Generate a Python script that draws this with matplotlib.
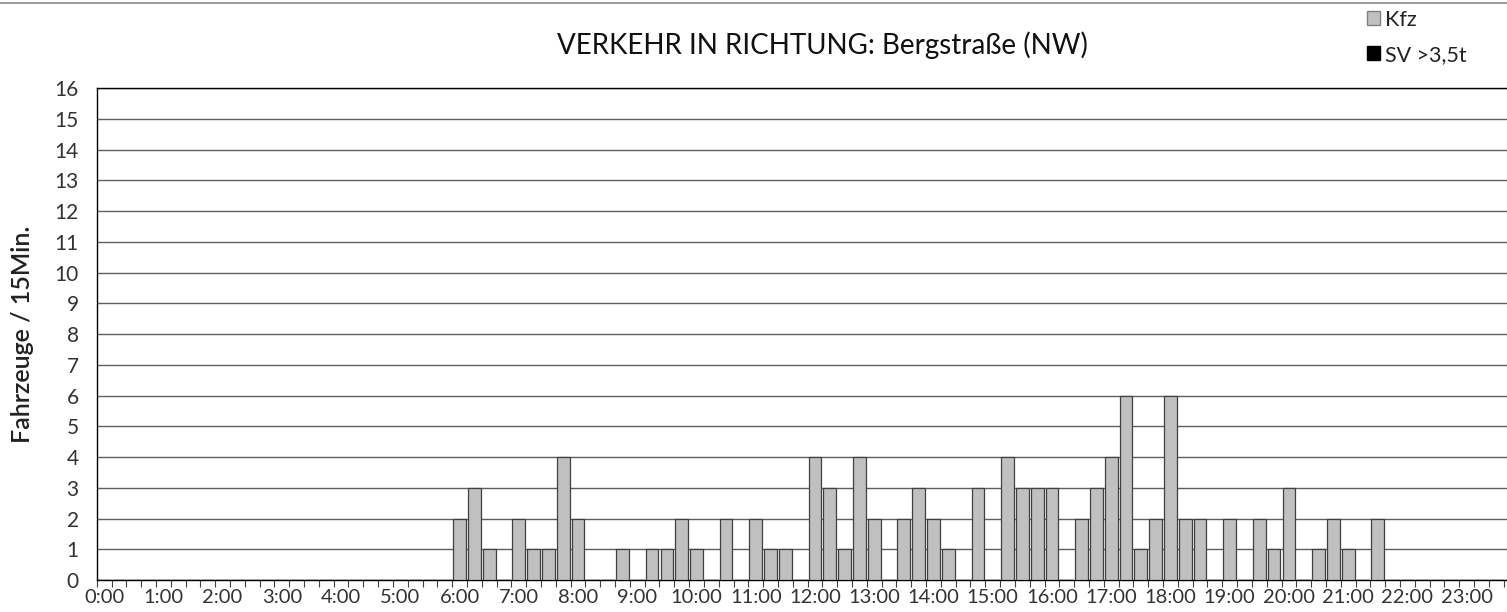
import numpy as np
import matplotlib
matplotlib.use("Agg")
import matplotlib.pyplot as plt
from matplotlib.lines import Line2D
from matplotlib.patches import Patch

# ── Data: vehicles per 15-minute slot, 0:00 .. 23:45 ──────────────────────────
kfz = [
    0, 0, 0, 0,   0, 0, 0, 0,   0, 0, 0, 0,   0, 0, 0, 0,   # 0:00 - 3:45
    0, 0, 0, 0,   0, 0, 0, 0,                               # 4:00 - 5:45
    2, 3, 1, 0,   2, 1, 1, 4,   2, 0, 0, 1,   0, 1, 1, 2,   # 6:00 - 9:45
    1, 0, 2, 0,   2, 1, 1, 0,   4, 3, 1, 4,   2, 0, 2, 3,   # 10:00 - 13:45
    2, 1, 0, 3,   0, 4, 3, 3,   3, 0, 2, 3,   4, 6, 1, 2,   # 14:00 - 17:45
    6, 2, 2, 0,   2, 0, 2, 1,   3, 0, 1, 2,   1, 0, 2, 0,   # 18:00 - 21:45
    0, 0, 0, 0,   0, 0, 0, 0,                               # 22:00 - 23:45
]
sv = [0] * 96   # SV >3,5t: no heavy vehicles

hour_labels = [f"{h}:00" for h in range(24)]
y_ticks = list(range(0, 17))

TITLE = "VERKEHR IN RICHTUNG: Bergstraße (NW)"
FONT = ["Lato", "DejaVu Sans"]
plt.rcParams["font.family"] = FONT

# ── Layout (pixels of a 1507x612 image) ─────────────────────────────────────
W, H = 1507, 612
ax_left, ax_top, ax_bottom = 96.7, 88.3, 580.0
slot_px = 14.81

fig = plt.figure(figsize=(W / 100, H / 100), dpi=100)
ax = fig.add_axes([ax_left / W, (H - ax_bottom) / H,
                   (W - ax_left) / W, (ax_bottom - ax_top) / H])

x = np.arange(len(kfz)) + 0.5
ax.bar(x, kfz, width=0.86, color="#c0c0c0", edgecolor="#404040",
       linewidth=0.9, zorder=3)
ax.bar(x, sv, width=0.86, color="black", zorder=4)

ax.set_xlim(0, (W - ax_left) / slot_px)
ax.set_ylim(0, 16)

# grid
ax.set_yticks(y_ticks)
ax.set_yticklabels([str(v) for v in y_ticks], fontsize=15, color="#333333")
ax.tick_params(axis="y", length=0, pad=13)
ax.yaxis.grid(True, color="#5f5f5f", linewidth=1.0, zorder=0)
ax.set_axisbelow(True)

# x: boundary ticks every 15 minutes, labels centred under each hour's first slot
ax.set_xticks(np.arange(0, 96))
ax.set_xticklabels([])
ax.tick_params(axis="x", which="major", length=5, width=0.8, color="#404040")
ax.set_xticks(np.arange(0.5, 96, 4), minor=True)
ax.set_xticklabels(hour_labels, minor=True, fontsize=14.5, color="#333333")
ax.tick_params(axis="x", which="minor", length=0, pad=6.5)

for s in ("left", "bottom", "top"):
    ax.spines[s].set_color("black")
    ax.spines[s].set_linewidth(1.0)
ax.spines["right"].set_visible(False)

ax.set_ylabel("Fahrzeuge / 15Min.", fontsize=18, fontweight="semibold",
              color="#222222")
ax.yaxis.set_label_coords((34 - ax_left) / (W - ax_left), 0.5)

fig.text(0.546, 1 - 45 / H, TITLE, ha="center", va="center",
         fontsize=20, color="#111111")

# legend
leg = fig.legend(handles=[Patch(facecolor="#c0c0c0", edgecolor="#808080", label="Kfz"),
                          Patch(facecolor="black", edgecolor="black", label="SV >3,5t")],
                 loc="upper left", bbox_to_anchor=(1358 / W, 1 - 1 / H),
                 frameon=False, fontsize=15.5, handlelength=0.6, handleheight=0.6,
                 handletextpad=0.25, labelspacing=0.7, borderaxespad=0)
for t in leg.get_texts():
    t.set_color("#222222")

# outer frame line at the top
fig.add_artist(Line2D([0, 1], [1 - 2.5 / H, 1 - 2.5 / H], transform=fig.transFigure,
                      color="#8a8a8a", linewidth=1.2))

fig.savefig("out.png", dpi=100)
